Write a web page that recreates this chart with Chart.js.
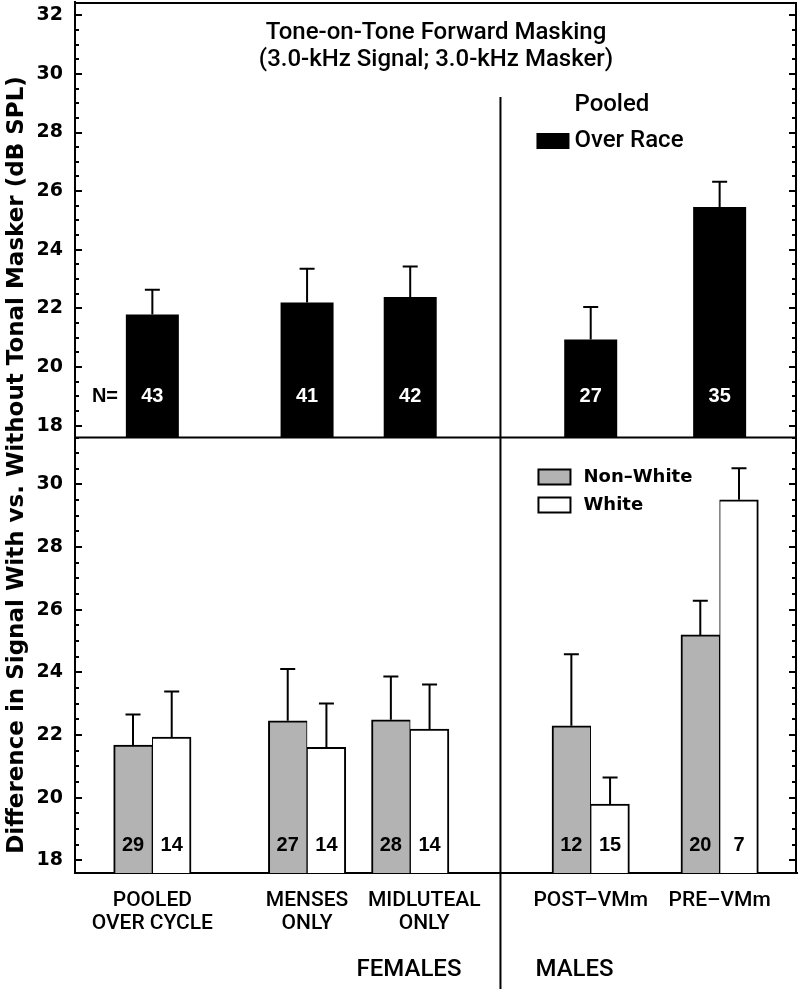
<!DOCTYPE html>
<html><head><meta charset="utf-8">
<script src="https://cdn.jsdelivr.net/npm/chart.js@4.4.1/dist/chart.umd.min.js"></script>
<style>html,body{margin:0;padding:0;background:#fff}canvas{display:block}</style>
</head><body>
<canvas id="c" width="800" height="989"></canvas>
<script>
// ---- data ----
const categories = [['POOLED', 'OVER CYCLE'], ['MENSES', 'ONLY'], ['MIDLUTEAL', 'ONLY'], ['POST–VMm'], ['PRE–VMm']];
const categoryPos = [3, 9, 13, 20, 25];          // position of each category on a 0–28 axis
const sexGroups = ['FEMALES', 'MALES'];
const sexDividerPos = 16.5;

const pooledMean = [21.79, 22.20, 22.39, 20.94, 25.46];
const pooledErr  = [0.85, 1.15, 1.04, 1.11, 0.86];
const pooledN    = [43, 41, 42, 27, 35];

const nonWhiteMean = [21.68, 22.46, 22.49, 22.30, 25.20];
const nonWhiteErr  = [0.98, 1.65, 1.38, 2.28, 1.09];
const nonWhiteN    = [29, 27, 28, 12, 20];

const whiteMean = [21.94, 21.61, 22.19, 19.80, 29.51];
const whiteErr  = [1.45, 1.40, 1.43, 0.85, 1.01];
const whiteN    = [14, 14, 14, 15, 7];

const topTickLabels = [18, 20, 22, 24, 26, 28, 30, 32];
const bottomTickLabels = [18, 20, 22, 24, 26, 28, 30];

const titleLines = ['Tone-on-Tone Forward Masking', '(3.0-kHz Signal; 3.0-kHz Masker)'];
const yTitle = 'Difference in Signal With vs. Without Tonal Masker (dB SPL)';

// ---- styles ----
const FONT_TITLE = '500 24px Roboto, "Liberation Sans"';
const FONT_LEG = 'bold 18px "DejaVu Sans"';
const FONT_N = 'bold 20px "Liberation Sans"';
const GRAY = '#b3b3b3';
const categoryLabelShift = [0, 0, 14, 0, 0];   // horizontal nudge of category labels (px)

const toXY = arr => arr.map((v, i) => ({ x: categoryPos[i], y: v }));

const decorations = {
  id: 'decorations',
  beforeDraw(chart) {
    const xs = chart.scales.x;
    const items = xs.getLabelItems(chart.chartArea);
    items.forEach((it, i) => {
      const tr = it && ((it.options && it.options.translation) || it.translation);
      if (tr && categoryLabelShift[i]) tr[0] += categoryLabelShift[i];
    });
  },
  afterDatasetsDraw(chart) {
    const ctx = chart.ctx;
    chart.data.datasets.forEach((ds, di) => {
      const meta = chart.getDatasetMeta(di);
      const ys = chart.scales[ds.yAxisID];
      meta.data.forEach((bar, i) => {
        const yCap = ys.getPixelForValue(ds.data[i].y + ds.errors[i]);
        ctx.save();
        ctx.strokeStyle = '#000';
        ctx.lineWidth = 2;
        ctx.beginPath();
        ctx.moveTo(bar.x, bar.y);
        ctx.lineTo(bar.x, yCap);
        ctx.moveTo(bar.x - 7.5, yCap);
        ctx.lineTo(bar.x + 7.5, yCap);
        ctx.stroke();
        ctx.fillStyle = ds.countColor;
        ctx.font = FONT_N;
        ctx.textAlign = 'center';
        ctx.textBaseline = 'middle';
        ctx.fillText(String(ds.counts[i]), bar.x, ys.getPixelForValue(ds.countAt));
        ctx.restore();
      });
    });
  },
  afterDraw(chart) {
    const ctx = chart.ctx;
    const a = chart.chartArea;
    const yT = chart.scales.yTop, yB = chart.scales.yBot, xs = chart.scales.x;
    ctx.save();
    ctx.strokeStyle = '#000';
    ctx.lineWidth = 2;
    // frame: top, right, panel separator
    ctx.beginPath();
    ctx.moveTo(a.left, a.top + 1); ctx.lineTo(a.right, a.top + 1);
    ctx.moveTo(a.right - 1, a.top); ctx.lineTo(a.right - 1, a.bottom);
    ctx.moveTo(a.left, yT.bottom); ctx.lineTo(a.right, yT.bottom);
    ctx.stroke();
    // inward ticks on left and right
    [yT, yB].forEach(s => {
      for (let v = Math.ceil(s.min * 2) / 2; v <= s.max; v += 0.5) {
        const y = Math.round(s.getPixelForValue(v));
        const len = (v % 2 === 0) ? 7 : 4;
        ctx.beginPath();
        ctx.moveTo(a.left, y); ctx.lineTo(a.left + len, y);
        ctx.moveTo(a.right, y); ctx.lineTo(a.right - len - 1, y);
        ctx.stroke();
      }
    });
    // divider between females and males
    const xd = xs.getPixelForValue(sexDividerPos);
    ctx.beginPath();
    ctx.moveTo(xd, a.top + 95); ctx.lineTo(xd, chart.height);
    ctx.stroke();
    // title
    ctx.fillStyle = '#000';
    ctx.font = FONT_TITLE;
    ctx.textAlign = 'center';
    ctx.textBaseline = 'middle';
    const cx = (a.left + a.right) / 2;
    ctx.fillText(titleLines[0], cx, a.top + 31);
    ctx.fillText(titleLines[1], cx, a.top + 58);
    // top legend
    ctx.textAlign = 'left';
    ctx.fillText(chart.data.datasets[0].legendLines[0], xd + 74, a.top + 103);
    ctx.fillText(chart.data.datasets[0].legendLines[1], xd + 74, a.top + 139);
    ctx.fillStyle = '#000';
    ctx.fillRect(xd + 36, a.top + 131, 33, 16);
    // bottom legend
    const lg = [[chart.data.datasets[1], yB.top + 32], [chart.data.datasets[2], yB.top + 60]];
    ctx.font = FONT_LEG;
    lg.forEach(([ds, y]) => {
      ctx.fillStyle = ds.backgroundColor;
      ctx.fillRect(xd + 38, y, 32, 15);
      ctx.strokeRect(xd + 38, y, 32, 15);
      ctx.fillStyle = '#000';
      ctx.fillText(ds.label, xd + 83, y + 8);
    });
    // N=
    ctx.font = 'bold 20px "Liberation Sans"';
    ctx.textAlign = 'right';
    ctx.fillText('N=', a.left + 43, yT.getPixelForValue(chart.data.datasets[0].countAt));
    // FEMALES / MALES
    ctx.font = '500 24px Roboto, "Liberation Sans"';
    ctx.textAlign = 'right';
    ctx.fillText(sexGroups[0], xd - 39, a.bottom + 97);
    ctx.textAlign = 'left';
    ctx.fillText(sexGroups[1], xd + 35, a.bottom + 97);
    // y axis title
    ctx.save();
    ctx.translate(17, a.top + 463);
    ctx.rotate(-Math.PI / 2);
    ctx.font = 'bold 23px "DejaVu Sans"';
    ctx.textAlign = 'center';
    ctx.fillText(yTitle, 0, 0);
    ctx.restore();
    ctx.restore();
  }
};

const yAxisCommon = (ticksArr) => ({
  type: 'linear',
  position: 'left',
  stack: 'panels',
  stackWeight: 1,
  grid: { display: false, drawTicks: false },
  border: { display: true, color: '#000', width: 2 },
  afterFit: s => { s.width = 75; s.paddingTop = 0; s.paddingBottom = 0; },
  afterBuildTicks: s => { s.ticks = ticksArr.map(v => ({ value: v })); },
  ticks: { color: '#000', font: { family: 'DejaVu Sans', size: 19, weight: 'bold' }, padding: 12, autoSkip: false }
});

new Chart(document.getElementById('c'), {
  type: 'bar',
  data: {
    datasets: [
      { label: 'Pooled Over Race', legendLines: ['Pooled', 'Over Race'], data: toXY(pooledMean), yAxisID: 'yTop',
        grouped: false, maxBarThickness: 53, barPercentage: 0.9, categoryPercentage: 0.9,
        backgroundColor: '#000', borderWidth: 0,
        errors: pooledErr, counts: pooledN, countColor: '#fff', countAt: 19.0 },
      { label: 'Non–White', data: toXY(nonWhiteMean), yAxisID: 'yBot', barThickness: 38.7,
        backgroundColor: GRAY, borderColor: '#000', borderWidth: { top: 2, left: 2, right: 1, bottom: 0 },
        errors: nonWhiteErr, counts: nonWhiteN, countColor: '#000', countAt: 18.47 },
      { label: 'White', data: toXY(whiteMean), yAxisID: 'yBot', barThickness: 38.7,
        backgroundColor: '#fff', borderColor: '#000', borderWidth: { top: 2, left: 1, right: 2, bottom: 0 },
        errors: whiteErr, counts: whiteN, countColor: '#000', countAt: 18.47 }
    ]
  },
  options: {
    responsive: false,
    animation: false,
    layout: { padding: { top: 2, right: 3, left: 0, bottom: 0 } },
    plugins: { legend: { display: false }, tooltip: { enabled: false }, title: { display: false } },
    scales: {
      x: {
        type: 'linear', min: 0, max: 28, offset: false,
        grid: { display: false, drawTicks: false, offset: false },
        border: { display: true, color: '#000', width: 2 },
        afterFit: s => { s.height = 116; s.paddingLeft = 0; s.paddingRight = 0; },
        afterBuildTicks: s => { s.ticks = categoryPos.map(v => ({ value: v })); },
        ticks: {
          color: '#000', font: { family: 'Roboto', size: 21, weight: 500, lineHeight: 1.1 }, padding: 16,
          maxRotation: 0, autoSkip: false,
          callback: (v, i) => categories[i]
        }
      },
      yBot: Object.assign(yAxisCommon(bottomTickLabels), { min: 17.6, max: 31.5, weight: 0 }),
      yTop: Object.assign(yAxisCommon(topTickLabels), { min: 17.6, max: 32.45, weight: 1 })
    }
  },
  plugins: [decorations]
});
</script>
</body></html>
